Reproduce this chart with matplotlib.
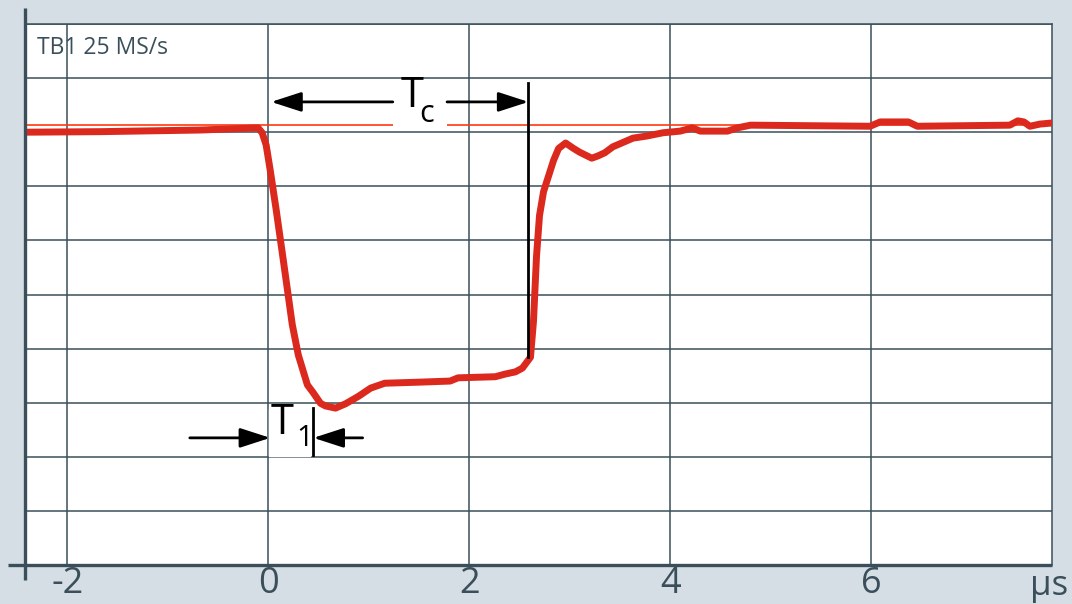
import numpy as np
import matplotlib.pyplot as plt

# scope trace, x in microseconds, y in divisions (0..10)
t_us = [-2.42, -1.67, -0.68, -0.10, -0.06, -0.02, 0.02, 0.08, 0.15, 0.24,
        0.30, 0.39, 0.45, 0.52, 0.57, 0.67, 0.77, 0.90, 1.02, 1.16,
        1.51, 1.81, 1.89, 2.26, 2.36, 2.46, 2.53, 2.61, 2.64, 2.67,
        2.70, 2.74, 2.84, 2.89, 2.96, 3.03, 3.10, 3.22, 3.28, 3.35,
        3.43, 3.63, 3.77, 3.93, 4.10, 4.22, 4.30, 4.57, 4.67, 4.80,
        5.99, 6.09, 6.37, 6.46, 7.38, 7.46, 7.52, 7.58, 7.68, 7.80]
level = [8.00, 8.01, 8.04, 8.08, 7.99, 7.76, 7.30, 6.56, 5.64, 4.44,
         3.88, 3.33, 3.18, 2.99, 2.94, 2.90, 2.98, 3.12, 3.27, 3.36,
         3.38, 3.40, 3.46, 3.48, 3.53, 3.57, 3.64, 3.84, 4.50, 5.70,
         6.46, 6.90, 7.48, 7.70, 7.80, 7.71, 7.63, 7.52, 7.56, 7.62,
         7.73, 7.89, 7.93, 7.99, 8.02, 8.08, 8.02, 8.02, 8.08, 8.13,
         8.11, 8.19, 8.19, 8.11, 8.13, 8.21, 8.19, 8.11, 8.15, 8.17]

ref_level = 8.13
x_ticks = [-2, 0, 2, 4, 6]
x_labels = ['-2', '0', '2', '4', '6']
x_unit = 'μs'
timebase = 'TB1 25 MS/s'

# Tc marker (start, end of interval) and T1 marker
tc_start, tc_end = 0.03, 2.59
tc_y = 8.56
tc_gap = (1.24, 1.78)
t1_start, t1_end = 0.02, 0.45
t1_y = 2.35

bg = '#d4dee4'
slate = '#3b4f5a'
trace_red = '#dc291e'

plt.rcParams['font.family'] = ['Open Sans', 'DejaVu Sans']

fig = plt.figure(figsize=(10.72, 6.04), dpi=100, facecolor=bg)
ax = fig.add_axes([25 / 1072, 39 / 604, 1027 / 1072, 541 / 604])
ax.set_facecolor('white')
ax.set_xlim(-2.42, 7.80)
ax.set_ylim(0, 10)

ax.set_xticks(x_ticks)
ax.set_xticklabels(x_labels)
ax.set_yticks(np.arange(0, 11, 1))
ax.tick_params(axis='x', length=0, pad=1, labelsize=26, labelcolor=slate)
ax.tick_params(axis='y', length=0, labelleft=False)
ax.grid(True, color=slate, linewidth=1.1, zorder=0)
ax.set_axisbelow(True)

for side in ['top', 'right']:
    ax.spines[side].set_color(slate)
    ax.spines[side].set_linewidth(1.1)
for side in ['left', 'bottom']:
    ax.spines[side].set_visible(False)
# thick axes lines that run past the corner
ax.plot([0, 0], [-0.028, 1.03], transform=ax.transAxes, color=slate,
        lw=2.4, clip_on=False, zorder=5, solid_capstyle='butt')
ax.plot([-0.017, 1.0], [0, 0], transform=ax.transAxes, color=slate,
        lw=2.4, clip_on=False, zorder=5, solid_capstyle='butt')

ax.text(7.77, -0.038, x_unit, transform=ax.get_xaxis_transform(),
        ha='center', va='center', fontsize=25, color=slate)
ax.text(0.012, 0.955, timebase, transform=ax.transAxes, ha='left',
        va='center', fontsize=16.5, color=slate)

# reference level, broken around the Tc label
xl = ax.get_xlim()
ax.hlines([ref_level, ref_level], [xl[0], tc_gap[1]], [tc_gap[0], xl[1]],
          color='#ff3a10', lw=1.2, zorder=2)

ax.plot(t_us, level, color=trace_red, lw=5.0, zorder=3,
        solid_joinstyle='round', solid_capstyle='round')

arrow = dict(arrowstyle='-|>,head_length=1.85,head_width=0.6',
             color='black', lw=2.0, shrinkA=0, shrinkB=0)

# Tc
ax.plot([tc_end, tc_end], [tc_y + 0.35, 3.84], color='black', lw=2.0, zorder=4)
ax.annotate('', xy=(tc_start, tc_y), xytext=(tc_gap[0], tc_y), arrowprops=arrow)
ax.annotate('', xy=(tc_end, tc_y), xytext=(tc_gap[1], tc_y), arrowprops=arrow)
ax.text(1.43, 8.67, 'T', ha='center', va='center', fontsize=30, color='black')
ax.text(1.575, 8.33, 'c', ha='center', va='center', fontsize=22, color='black')

# T1
ax.fill_between([0.01, 0.42], 2.02, 2.88, color='white', zorder=1)
ax.plot([t1_end, t1_end], [2.03, 2.90], color='black', lw=2.0, zorder=4)
ax.annotate('', xy=(t1_start, t1_y), xytext=(-0.78, t1_y), arrowprops=arrow)
ax.annotate('', xy=(t1_end, t1_y), xytext=(0.94, t1_y), arrowprops=arrow)
ax.text(0.14, 2.62, 'T', ha='center', va='center', fontsize=30, color='black')
ax.text(0.36, 2.33, '1', ha='center', va='center', fontsize=21, color='black')

fig.savefig('out.png', dpi=100, facecolor=bg)
